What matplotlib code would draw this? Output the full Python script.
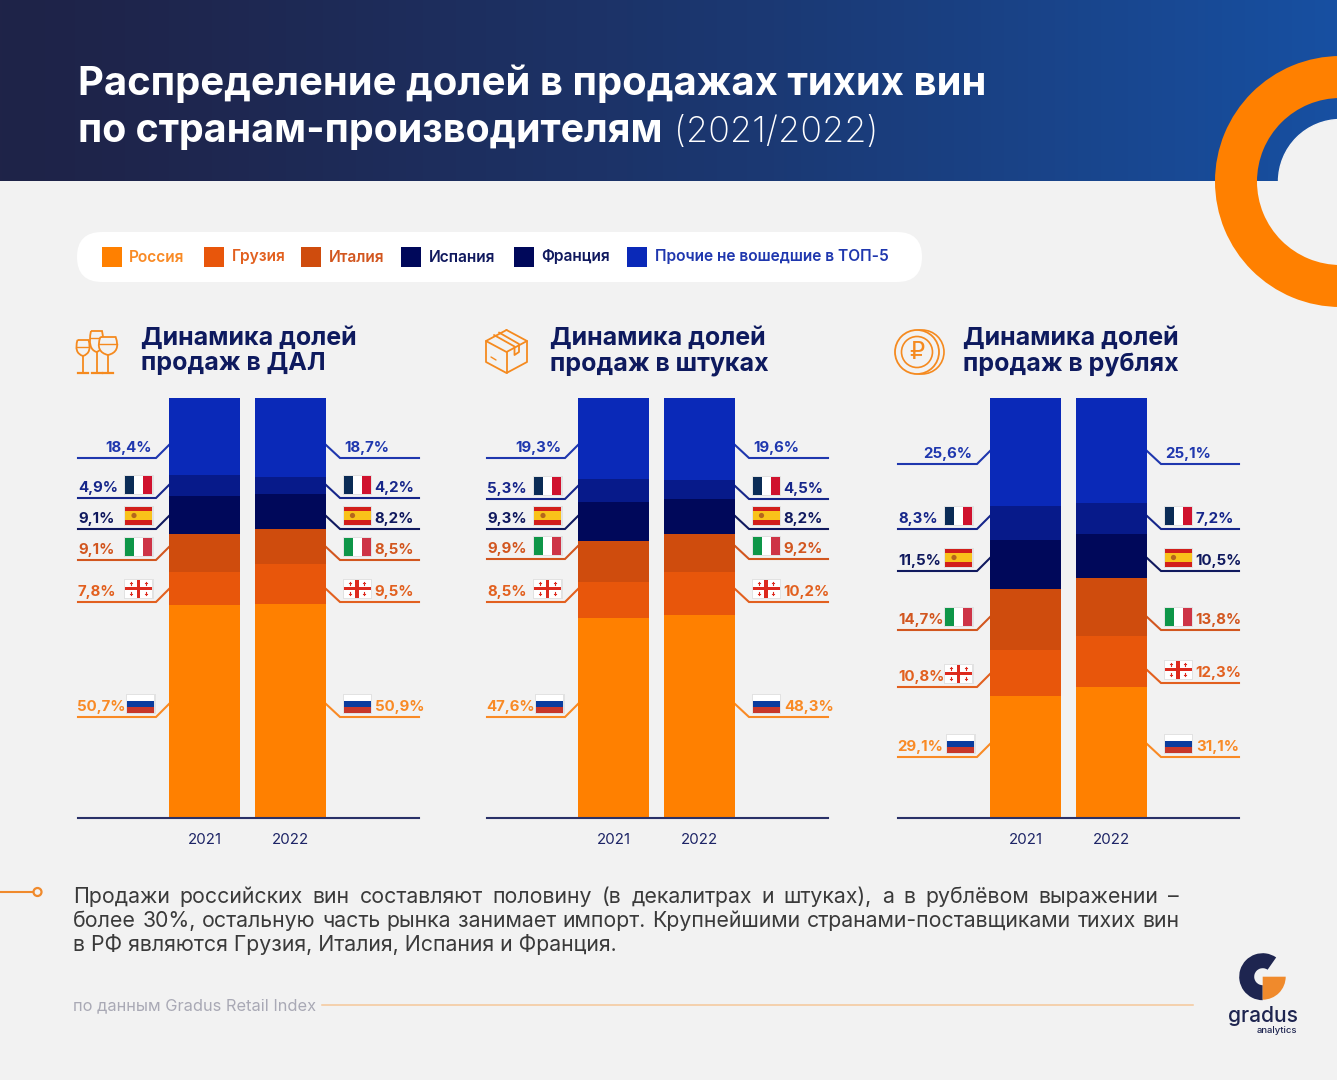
#!/usr/bin/env python
"""Wine sales shares by producing country, 2021/2022, Gradus infographic."""
import numpy as np
import matplotlib
matplotlib.use("Agg")
import matplotlib.pyplot as plt
from matplotlib.patches import Circle, FancyBboxPatch, PathPatch, Rectangle, Wedge
from matplotlib.path import Path

plt.rcParams["font.family"] = ["Inter", "DejaVu Sans"]

YEARS = ["2021", "2022"]
COUNTRIES = ["Россия", "Грузия", "Италия", "Испания", "Франция", "Прочие не вошедшие в ТОП-5"]

# bottom to top, same order as COUNTRIES
DAL_2021 = [50.7, 7.8, 9.1, 9.1, 4.9, 18.4]
DAL_2022 = [50.9, 9.5, 8.5, 8.2, 4.2, 18.7]
PCS_2021 = [47.6, 8.5, 9.9, 9.3, 5.3, 19.3]
PCS_2022 = [48.3, 10.2, 9.2, 8.2, 4.5, 19.6]
RUB_2021 = [29.1, 10.8, 14.7, 11.5, 8.3, 25.6]
RUB_2022 = [31.1, 12.3, 13.8, 10.5, 7.2, 25.1]

BAR_COLORS = ["#FF8000", "#E8560B", "#CF4C0D", "#00085A", "#071A8A", "#0A29B8"]
TXT_COLORS = ["#F98A25", "#E2601F", "#D2561F", "#10195E", "#16268A", "#1F37AE"]
LEG_COLORS = ["#FF8000", "#E8560B", "#CF4C0D", "#00085A", "#00085A", "#0A29B8"]
LEG_TXT = ["#F98A25", "#E2601F", "#D2561F", "#10195E", "#10195E", "#1F37AE"]
FLAGS = ["ru", "ge", "it", "es", "fr", None]
NAVY = "#0E1A5E"
BG = "#F2F2F2"

# pixel layout: line start, first bar centre, leader heights left and right
PANELS = [
    dict(x0=78, cx=204.5, vals=(DAL_2021, DAL_2022), title=["Динамика долей", "продаж в ДАЛ"], tx=141,
         left=[717, 602, 560, 529, 498, 458], right=[717, 602, 560, 529, 498, 458]),
    dict(x0=487, cx=613.5, vals=(PCS_2021, PCS_2022), title=["Динамика долей", "продаж в штуках"], tx=550,
         left=[717, 602, 559, 529, 499, 458], right=[717, 602, 559, 529, 499, 458]),
    dict(x0=898, cx=1025.5, vals=(RUB_2021, RUB_2022), title=["Динамика долей", "продаж в рублях"], tx=963,
         left=[757, 687, 630, 571, 529, 464], right=[757, 683, 630, 571, 529, 464]),
]
SPACING = 86
BAR_W = 71
LINE_W = 341
TOP, BASE = 398, 818

BODY = [
    "Продажи российских вин составляют половину (в декалитрах и штуках), а в рублёвом выражении –",
    "более 30%, остальную часть рынка занимает импорт. Крупнейшими странами-поставщиками тихих вин",
    "в РФ являются Грузия, Италия, Испания и Франция.",
]

W, H = 1337, 1080
fig = plt.figure(figsize=(W / 100, H / 100), dpi=100, facecolor=BG)
bg = fig.add_axes([0, 0, 1, 1], zorder=0)
bg.set_axis_off()


def px(size):
    return size * 0.72


def label(x, y, s, size, color, weight="normal", ha="left", **kw):
    return bg.text(x, y, s, fontsize=px(size), color=color, fontweight=weight, ha=ha, va="baseline", **kw)


# header
left_c, right_c = np.array([0x1F, 0x23, 0x48]), np.array([0x17, 0x50, 0xA2])
t = np.linspace(0, 1, 400)[None, :, None] ** 1.3
bg.imshow((left_c * (1 - t) + right_c * t).astype(np.uint8), extent=(0, W, 181, 0), aspect="auto",
          interpolation="bilinear", zorder=0)
bg.add_patch(Circle((1340.5, 181.5), 62, color=BG, zorder=1))
bg.add_patch(Wedge((1340.5, 181.5), 125.5, 0, 360, width=42, color="#FF8000", zorder=2, lw=0))
bg.set_xlim(0, W)
bg.set_ylim(H, 0)

label(78, 95, "Распределение долей в продажах тихих вин", 40, "white", "bold")
t2 = label(78, 142, "по странам-производителям", 39.4, "white", "bold")
fig.canvas.draw()
renderer = fig.canvas.get_renderer()
label(t2.get_window_extent(renderer).x1 + 12, 142, "(2021/2022)", 36, "white", "light")

# legend
bg.add_patch(FancyBboxPatch((77, 232), 845, 50, boxstyle="round,pad=0,rounding_size=25", fc="white", ec="none"))
LEG_SQ = [102, 204, 301, 401, 514, 627]
LEG_TX = [129, 232, 329, 429, 541, 655]
for name, c, tc, sq, tx in zip(COUNTRIES, LEG_COLORS, LEG_TXT, LEG_SQ, LEG_TX):
    bg.add_patch(Rectangle((sq, 247), 20, 20, fc=c, ec="none"))
    label(tx, 261.5, name, 15.5, tc, "semibold")


def flag(kind, x, yc):
    w, h = 27, 18
    y = yc - h / 2
    bg.add_patch(Rectangle((x - 1, y - 1), w + 2.5, h + 2.5, fc="#E2E2E2", ec="none", zorder=3))
    if kind == "ru":
        for i, c in enumerate(["#FFFFFF", "#0A3C9E", "#C8372A"]):
            bg.add_patch(Rectangle((x, y + i * h / 3), w, h / 3, fc=c, ec="none", zorder=4))
    elif kind in ("fr", "it"):
        cols = ["#0B2C56", "#FFFFFF", "#D0122E"] if kind == "fr" else ["#0E9648", "#FFFFFF", "#CE3446"]
        for i, c in enumerate(cols):
            bg.add_patch(Rectangle((x + i * w / 3, y), w / 3, h, fc=c, ec="none", zorder=4))
    elif kind == "es":
        bg.add_patch(Rectangle((x, y), w, h, fc="#D21F1B", ec="none", zorder=4))
        bg.add_patch(Rectangle((x, y + h / 4), w, h / 2, fc="#F9C21A", ec="none", zorder=5))
        bg.add_patch(Circle((x + 9, yc), 2.6, fc="#B5651D", ec="none", zorder=6))
    else:
        bg.add_patch(Rectangle((x, y), w, h, fc="white", ec="none", zorder=4))
        bg.add_patch(Rectangle((x, yc - 1.7), w, 3.4, fc="#DD2A1E", ec="none", zorder=5))
        bg.add_patch(Rectangle((x + w / 2 - 1.7, y), 3.4, h, fc="#DD2A1E", ec="none", zorder=5))
        for dx in (w * 0.23, w * 0.77):
            for dy in (h * 0.22, h * 0.78):
                bg.plot([x + dx - 1.2, x + dx + 1.2], [y + dy, y + dy], color="#DD2A1E", lw=0.8, zorder=5)
                bg.plot([x + dx, x + dx], [y + dy - 1.2, y + dy + 1.2], color="#DD2A1E", lw=0.8, zorder=5)


def pct(v):
    return f"{v:.1f}%".replace(".", ",")


def draw_panel(p):
    x0 = p["x0"]
    ax = fig.add_axes([x0 / W, 1 - BASE / H, LINE_W / W, (BASE - TOP) / H], zorder=1)
    ax.patch.set_visible(False)
    xpos = np.arange(len(YEARS))
    for i, vals in enumerate(p["vals"]):
        bottom = 0
        for v, c in zip(vals, BAR_COLORS):
            ax.bar(xpos[i], v, BAR_W / SPACING, bottom=bottom, color=c, linewidth=0)
            bottom += v
    ax.set_xlim((x0 - p["cx"]) / SPACING, (x0 + LINE_W - p["cx"]) / SPACING)
    ax.set_ylim(0, 100)
    for s in ("top", "left", "right"):
        ax.spines[s].set_visible(False)
    ax.spines["bottom"].set_color("#2A3168")
    ax.spines["bottom"].set_linewidth(1.5)
    ax.set_yticks([])
    ax.set_xticks(xpos)
    ax.set_xticklabels(YEARS, fontsize=px(15), color="#1D2466")
    ax.tick_params(axis="x", length=0, pad=10.5)

    bar1_l = p["cx"] - BAR_W / 2
    bar2_r = p["cx"] + SPACING + BAR_W / 2
    x1 = x0 + LINE_W
    for j in range(len(COUNTRIES)):
        c, kind = TXT_COLORS[j], FLAGS[j]
        yl, yr = p["left"][j], p["right"][j]
        bg.plot([x0, bar1_l - 13, bar1_l], [yl, yl, yl - 13], color=c, lw=1.5, solid_joinstyle="miter")
        bg.plot([bar2_r, bar2_r + 14, x1], [yr - 13, yr, yr], color=c, lw=1.5, solid_joinstyle="miter")
        fl = x0 + 47
        fr = bar2_r + 17.5
        vl, vr = pct(p["vals"][0][j]), pct(p["vals"][1][j])
        if kind is None:
            label(fl + 27, yl - 6, vl, 15, c, "bold", ha="right")
            label(fr + 1, yr - 6, vr, 15, c, "bold")
        else:
            shift = 2 if kind == "ru" else 0
            flag(kind, fl + shift, yl - 13.5)
            flag(kind, fr, yr - 13.5)
            label(x0 - shift / 2, yl - 6, vl, 15, c, "bold")
            label(fr + 31 + shift / 2, yr - 6, vr, 15, c, "bold")
    for line, y in zip(p["title"], (345, 370)):
        label(p["tx"], y, line, 25, NAVY, "bold")


for p in PANELS:
    draw_panel(p)


def stroke(points, lw=1.3):
    xs, ys = zip(*points)
    bg.plot(xs, ys, color="#F58A1F", lw=lw, solid_capstyle="round", solid_joinstyle="round")


def glass(cx, top, half, bot, foot=372.5):
    verts = [(cx - half * 0.85, top), (cx - half * 1.45, bot - 3), (cx, bot),
             (cx + half * 1.45, bot - 3), (cx + half * 0.85, top), (cx - half * 0.85, top)]
    codes = [Path.MOVETO, Path.CURVE3, Path.CURVE3, Path.CURVE3, Path.CURVE3, Path.LINETO]
    bg.add_patch(PathPatch(Path(verts, codes), fc=BG, ec="#F58A1F", lw=1.3, zorder=2))
    bg.plot([cx, cx], [bot, foot], color="#F58A1F", lw=1.3, zorder=2)
    bg.plot([cx - 5, cx + 5], [foot, foot], color="#F58A1F", lw=1.6, zorder=2)
    bg.plot([cx - half * 0.95, cx + half * 0.95], [top + 7, top + 7], color="#F58A1F", lw=1.0, zorder=2)


# icons
glass(96.5, 331, 6.5, 352)
glass(83, 340, 6.5, 356)
glass(108, 337, 9, 355)

stroke([(506.5, 330), (527, 341), (527, 362), (506.5, 373), (486, 362), (486, 341), (506.5, 330)])
stroke([(486, 341), (506.5, 352), (527, 341)])
stroke([(506.5, 352), (506.5, 373)])
stroke([(494, 335), (514.5, 346.5), (514.5, 355), (519, 352), (519, 344), (499, 332.5)])
stroke([(491, 357), (496, 360)], lw=1.0)

bg.add_patch(Circle((922, 352), 22, fc="none", ec="#F58A1F", lw=1.2))
bg.add_patch(Circle((917, 352), 22, fc=BG, ec="#F58A1F", lw=1.3))
bg.add_patch(Circle((917, 352), 15.5, fc="none", ec="#F58A1F", lw=1.2))
bg.text(917, 352, "₽", family="DejaVu Sans", fontsize=px(24), color="#F58A1F", ha="center", va="center")

# body text, first two lines justified
BODY_X0, BODY_X1 = 73, 1179
BODY_SIZE = 21.3
for i, (line, y) in enumerate(zip(BODY, (903, 927, 951))):
    if i == 2:
        label(BODY_X0, y, line, BODY_SIZE, "#3A3A3A")
        continue
    words = [label(BODY_X0, y, w, BODY_SIZE, "#3A3A3A") for w in line.split()]
    widths = [w.get_window_extent(renderer).width for w in words]
    gap = (BODY_X1 - BODY_X0 - sum(widths)) / (len(words) - 1)
    x = BODY_X0
    for w, wd in zip(words, widths):
        w.set_x(x)
        x += wd + gap

bg.plot([0, 33], [892, 892], color="#F08A2C", lw=1.5)
bg.add_patch(Circle((37.5, 892), 4, fc=BG, ec="#F08A2C", lw=1.6))

label(73, 1010, "по данным Gradus Retail Index", 16.4, "#A9A9B5")
bg.plot([322, 1193], [1005, 1005], color="#F5C79A", lw=1.1)

# logo
bg.add_patch(Wedge((1262.7, 976.7), 23.5, 90, 305, width=15, fc="#1E2550", ec="none"))
bg.add_patch(Wedge((1262.7, 976.7), 23, 0, 90, fc="#F08A2C", ec="none"))
label(1263, 1022, "gradus", 21, "#1E2550", "medium", ha="center")
label(1297, 1033, "analytics", 9.5, "#1E2550", "medium", ha="right")

bg.set_xlim(0, W)
bg.set_ylim(H, 0)
fig.savefig("out.png", dpi=100, facecolor=BG)
